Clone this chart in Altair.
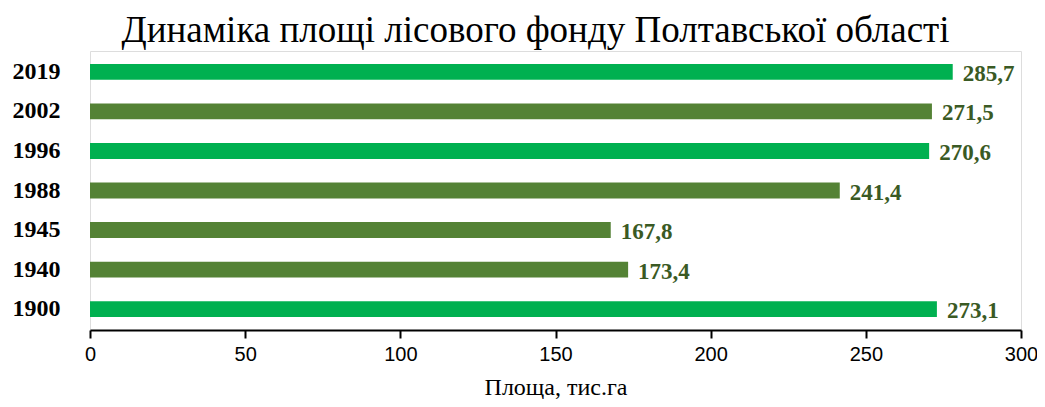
import altair as alt
import pandas as pd

years = ["2019", "2002", "1996", "1988", "1945", "1940", "1900"]
bar_values = [278.0, 271.3, 270.4, 241.6, 167.8, 173.4, 272.9]
value_labels = ["285,7", "271,5", "270,6", "241,4", "167,8", "173,4", "273,1"]
bar_groups = ["a", "b", "a", "b", "b", "b", "a"]

df = pd.DataFrame({"year": years, "value": bar_values, "label": value_labels, "group": bar_groups})

y_enc = alt.Y("year:N", sort=years, title=None,
              scale=alt.Scale(paddingInner=0.6, paddingOuter=0.33),
              axis=alt.Axis(domain=False, ticks=False, labelPadding=30,
                            labelFont="Liberation Serif", labelFontSize=24,
                            labelFontWeight="bold", labelColor="#000000"))

x_enc = alt.X("value:Q", title="Площа, тис.га",
              scale=alt.Scale(domain=[0, 300], nice=False),
              axis=alt.Axis(values=[0, 50, 100, 150, 200, 250, 300], grid=False,
                            domainColor="#000000", domainWidth=2,
                            tickColor="#000000", tickWidth=2, tickSize=8,
                            labelFont="Liberation Sans", labelFontSize=20,
                            labelFlush=False,
                            labelColor="#000000", labelPadding=6,
                            titleFont="Liberation Serif", titleFontSize=24,
                            titleFontWeight="normal", titleColor="#000000", titlePadding=11))

bars = alt.Chart(df).mark_bar().encode(
    x=x_enc, y=y_enc,
    color=alt.Color("group:N", legend=None,
                    scale=alt.Scale(domain=["a", "b"], range=["#00B050", "#548235"])),
)

texts = alt.Chart(df).mark_text(align="left", baseline="middle", dx=10, dy=2,
                                font="Liberation Serif", fontSize=23,
                                fontWeight="bold", color="#3A5A24").encode(
    x="value:Q", y=alt.Y("year:N", sort=years), text="label:N")

chart = (bars + texts).properties(
    width=931, height=279,
    title=alt.TitleParams("Динаміка площі лісового фонду Полтавської області",
                          font="Liberation Serif", fontSize=37, fontWeight="normal",
                          color="#000000", anchor="middle", dx=-20, offset=1),
    autosize=alt.AutoSizeParams(type="none"),
    padding={"left": 82, "top": 43, "right": 16, "bottom": 69},
).configure_view(stroke=None).configure(background="#ffffff")

chart.save("out.html", embed_options={"renderer": "svg", "actions": False})
